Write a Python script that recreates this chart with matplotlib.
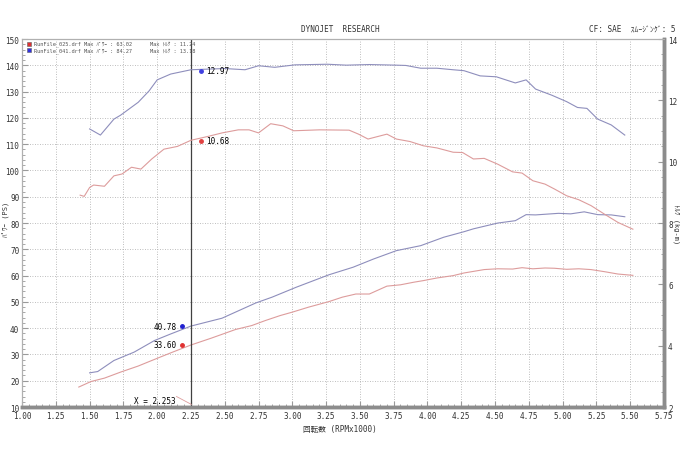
import numpy as np
import matplotlib
matplotlib.use('Agg')
import matplotlib.pyplot as plt
from matplotlib.ticker import MultipleLocator, FormatStrFormatter

plt.rcParams['font.family'] = ['DejaVu Sans Mono', 'Noto Sans CJK JP']

# run 041 (blue)
rpm_b_tq = [1.50, 1.58, 1.68, 1.73, 1.86, 1.94, 2.00, 2.10, 2.25, 2.50, 2.65, 2.75, 2.87,
            3.02, 3.26, 3.40, 3.57, 3.77, 3.84, 3.95, 4.07, 4.19, 4.27, 4.39, 4.51, 4.65,
            4.73, 4.80, 4.92, 5.03, 5.11, 5.18, 5.26, 5.36, 5.46]
tq_b = [11.07, 10.87, 11.39, 11.52, 11.94, 12.31, 12.67, 12.86, 13.00, 13.04, 13.00, 13.13, 13.08,
        13.16, 13.18, 13.15, 13.17, 13.15, 13.14, 13.05, 13.05, 13.00, 12.97, 12.80, 12.77, 12.57,
        12.67, 12.37, 12.17, 11.96, 11.77, 11.74, 11.39, 11.20, 10.87]
rpm_b_pw = [1.50, 1.56, 1.68, 1.83, 1.98, 2.10, 2.25, 2.48, 2.73, 2.85, 3.03, 3.27, 3.45, 3.60,
            3.77, 3.95, 4.12, 4.27, 4.34, 4.52, 4.65, 4.73, 4.80, 4.97, 5.06, 5.16, 5.26, 5.36, 5.46]
pw_b = [23.0, 23.5, 27.7, 30.9, 35.3, 37.8, 40.8, 43.8, 49.6, 51.8, 55.6, 60.3, 63.2, 66.3,
        69.5, 71.4, 74.6, 76.7, 77.8, 80.0, 80.9, 83.2, 83.1, 83.7, 83.5, 84.27, 83.2, 83.1, 82.4]

# run 025 (red)
rpm_r_tq = [1.43, 1.46, 1.50, 1.53, 1.61, 1.68, 1.74, 1.81, 1.88, 1.96, 2.05, 2.15, 2.25, 2.38,
            2.48, 2.60, 2.68, 2.75, 2.84, 2.93, 3.01, 3.20, 3.42, 3.49, 3.56, 3.70, 3.77, 3.87,
            3.97, 4.07, 4.19, 4.26, 4.34, 4.42, 4.52, 4.63, 4.70, 4.78, 4.87, 4.94, 5.03, 5.12,
            5.21, 5.31, 5.41, 5.52]
tq_r = [8.91, 8.87, 9.16, 9.24, 9.20, 9.54, 9.60, 9.82, 9.76, 10.09, 10.41, 10.50, 10.70, 10.83,
        10.94, 11.04, 11.04, 10.94, 11.24, 11.17, 11.01, 11.04, 11.03, 10.90, 10.74, 10.90, 10.74, 10.66,
        10.52, 10.45, 10.31, 10.30, 10.09, 10.11, 9.92, 9.67, 9.63, 9.38, 9.27, 9.11, 8.89, 8.76,
        8.57, 8.29, 8.02, 7.80]
rpm_r_pw = [1.42, 1.51, 1.61, 1.73, 1.86, 1.96, 2.10, 2.25, 2.40, 2.58, 2.70, 2.80, 2.91, 3.00,
            3.12, 3.27, 3.37, 3.47, 3.57, 3.70, 3.80, 3.90, 3.97, 4.07, 4.19, 4.27, 4.42, 4.52,
            4.63, 4.70, 4.78, 4.87, 4.94, 5.03, 5.12, 5.21, 5.31, 5.41, 5.52]
pw_r = [17.6, 19.7, 21.0, 23.3, 25.6, 27.7, 30.6, 33.6, 36.2, 39.5, 41.0, 42.9, 44.8, 46.1,
        48.0, 50.1, 51.8, 53.0, 53.0, 56.0, 56.5, 57.5, 58.1, 59.1, 60.0, 61.0, 62.3, 62.6,
        62.5, 63.02, 62.6, 62.9, 62.8, 62.4, 62.6, 62.3, 61.5, 60.6, 60.1]

cursor_x = 2.253
cur_tq = {'b': 12.97, 'r': 10.68}
cur_pw = {'b': 40.78, 'r': 33.60}

c_blue = '#8e8ebc'
c_red = '#dd9c9c'
grey = '#9a9a9a'
fs = 5.5

fig = plt.figure(figsize=(6.8, 4.52), dpi=100)
ax = fig.add_axes([0.0324, 0.0973, 0.944, 0.814])
ax2 = ax.twinx()

ax.set_xlim(1.0, 5.75)
ax.set_ylim(10, 150)
ax2.set_ylim(2, 14)

ax.plot(rpm_b_pw, pw_b, color=c_blue, lw=0.8)
ax.plot(rpm_r_pw, pw_r, color=c_red, lw=0.8)
ax2.plot(rpm_b_tq, tq_b, color=c_blue, lw=0.8)
ax2.plot(rpm_r_tq, tq_r, color=c_red, lw=0.8)

ax.xaxis.set_major_locator(MultipleLocator(0.25))
ax.xaxis.set_minor_locator(MultipleLocator(0.05))
ax.xaxis.set_major_formatter(FormatStrFormatter('%.2f'))
ax.yaxis.set_major_locator(MultipleLocator(10))
ax.yaxis.set_minor_locator(MultipleLocator(2))
ax2.yaxis.set_major_locator(MultipleLocator(2))
ax2.yaxis.set_minor_locator(MultipleLocator(0.5))

ax.grid(True, which='major', color='#a8a8a8', ls=(0, (1, 2)), lw=0.6)
ax.tick_params(axis='x', which='both', direction='in', colors=grey, labelcolor='#333333',
               labelsize=fs, pad=3)
ax.tick_params(axis='x', which='major', length=4)
ax.tick_params(axis='x', which='minor', length=2)
ax.tick_params(axis='y', which='both', direction='in', colors=grey, labelcolor='#333333',
               labelsize=fs, pad=2)
ax.tick_params(axis='y', which='major', length=4)
ax.tick_params(axis='y', which='minor', length=2)
ax2.tick_params(axis='y', which='both', direction='in', colors=grey, labelcolor='#333333',
                labelsize=fs, pad=3)
ax2.tick_params(axis='y', which='major', length=4)
ax2.tick_params(axis='y', which='minor', length=2)

for a in (ax, ax2):
    a.spines['top'].set_color('#b0b0b0')
    a.spines['top'].set_linewidth(0.8)
    a.spines['left'].set_color('#b0b0b0')
    a.spines['left'].set_linewidth(0.8)
    a.spines['right'].set_color('#8c8c8c')
    a.spines['right'].set_linewidth(2.5)
    a.spines['bottom'].set_color('#8c8c8c')
    a.spines['bottom'].set_linewidth(2.5)

fig.text(0.5, 0.05, '回転数 (RPMx1000)', fontsize=fs, ha='center', va='center', color='#333333')
fig.text(0.008, 0.515, 'ﾊﾟﾜｰ (PS)', fontsize=5, ha='center', va='center',
         rotation=90, color='#333333')
fig.text(0.994, 0.505, 'ﾄﾙｸ (kg-m)', fontsize=5, ha='center', va='center',
         rotation=-90, color='#333333')

# cursor
ax.axvline(cursor_x, color='#404040', lw=0.9)
dx = 0.068
ax2.plot(cursor_x + dx, cur_tq['b'], 'o', color='#4040e0', ms=2.5)
ax2.plot(cursor_x + dx, cur_tq['r'], 'o', color='#e04040', ms=2.5)
ax2.text(cursor_x + dx + 0.04, cur_tq['b'], '%.2f' % cur_tq['b'], fontsize=fs, va='center')
ax2.text(cursor_x + dx + 0.04, cur_tq['r'], '%.2f' % cur_tq['r'], fontsize=fs, va='center')
ax.plot(cursor_x - dx, cur_pw['b'], 'o', color='#2020d0', ms=2.5)
ax.plot(cursor_x - dx, cur_pw['r'], 'o', color='#e03030', ms=2.5)
ax.text(cursor_x - dx - 0.04, cur_pw['b'], '%.2f' % cur_pw['b'], fontsize=fs, va='center', ha='right')
ax.text(cursor_x - dx - 0.04, cur_pw['r'], '%.2f' % cur_pw['r'], fontsize=fs, va='center', ha='right')
ax.text(cursor_x - 0.12, 12.5, 'X = %.3f' % cursor_x, fontsize=fs, va='center', ha='right')
ax.plot([cursor_x - 0.11, cursor_x], [14.0, 11.0], color=c_red, lw=0.6)

# legend-like header
runs = [('RunFile_025.drf', 63.02, 11.24, '#e03030'),
        ('RunFile_041.drf', 84.27, 13.18, '#3030e0')]
for i, (name, mp, mt, col) in enumerate(runs):
    yy = 0.988 - i * 0.018
    ax.plot(0.011, yy, 's', ms=3.0, color=col, mec='#606060', mew=0.4,
            transform=ax.transAxes, clip_on=False)
    ax.text(0.018, yy, '%s Max ﾊﾟﾜｰ : %.2f' % (name, mp), fontsize=3.8,
            va='center', transform=ax.transAxes, color='#555555')
    ax.text(0.200, yy, 'Max ﾄﾙｸ : %.2f' % mt, fontsize=3.8,
            va='center', transform=ax.transAxes, color='#555555')

fig.text(0.5, 0.925, 'DYNOJET  RESEARCH', fontsize=fs, ha='center', va='bottom', color='#333333')
fig.text(0.993, 0.925, 'CF: SAE  ｽﾑｰｼﾞﾝｸﾞ: 5', fontsize=fs, ha='right', va='bottom', color='#333333')

fig.savefig('out.png', dpi=100)
